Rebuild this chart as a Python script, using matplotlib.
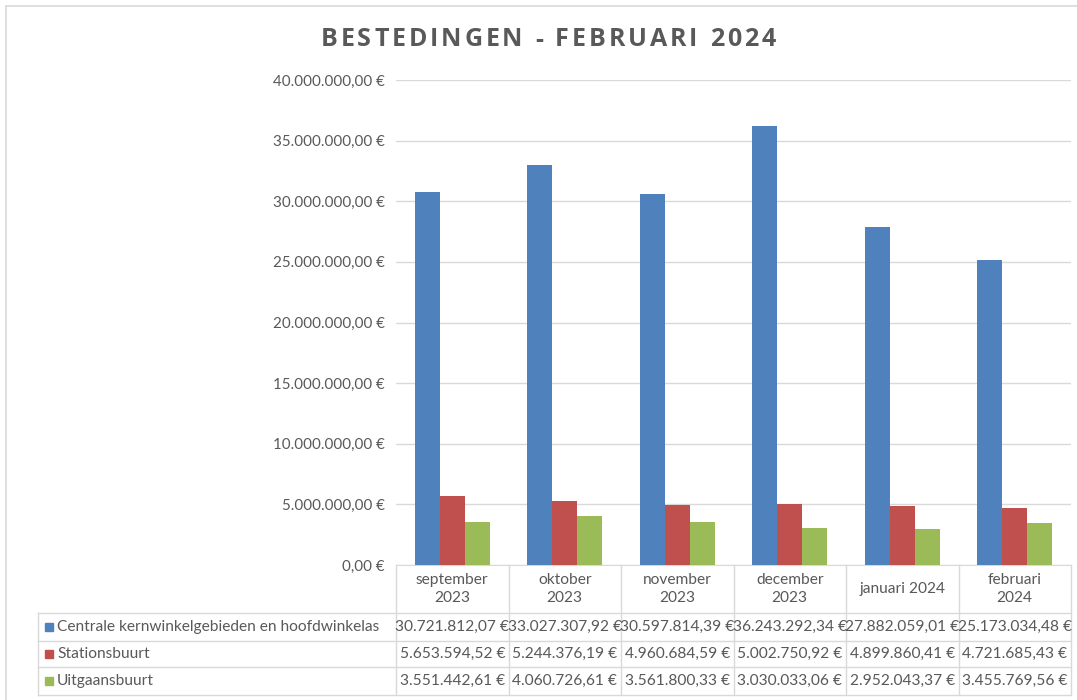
import matplotlib
matplotlib.use("Agg")
import matplotlib.pyplot as plt
import matplotlib.transforms as mtransforms
from matplotlib.lines import Line2D
from matplotlib.patches import Rectangle
import numpy as np

plt.rcParams['font.family'] = ['Lato', 'DejaVu Sans']

# ---- data ----
categories = ["september\n2023", "oktober\n2023", "november\n2023",
              "december\n2023", "januari 2024", "februari\n2024"]
series_names = ["Centrale kernwinkelgebieden en hoofdwinkelas",
                "Stationsbuurt", "Uitgaansbuurt"]
centrale = [30721812.07, 33027307.92, 30597814.39, 36243292.34, 27882059.01, 25173034.48]
stationsbuurt = [5653594.52, 5244376.19, 4960684.59, 5002750.92, 4899860.41, 4721685.43]
uitgaansbuurt = [3551442.61, 4060726.61, 3561800.33, 3030033.06, 2952043.37, 3455769.56]
yticks = [0, 5e6, 10e6, 15e6, 20e6, 25e6, 30e6, 35e6, 40e6]
title = "BESTEDINGEN - FEBRUARI 2024"

colors = ["#4F81BD", "#C0504D", "#9BBB59"]
series = [centrale, stationsbuurt, uitgaansbuurt]
TXT = "#595959"
GRID = "#D9D9D9"

W, H = 1077, 700
fig = plt.figure(figsize=(W / 100, H / 100), dpi=100)

def fy(py):
    return 1 - py / H

def fx(px):
    return px / W

ax_left, ax_right, ax_top, ax_bot = 396, 1071, 80, 565
ax = fig.add_axes([fx(ax_left), fy(ax_bot), fx(ax_right - ax_left), (ax_bot - ax_top) / H])

def eur(v):
    s = f"{v:,.2f}".replace(",", "X").replace(".", ",").replace("X", ".")
    return s + " €"

n = len(categories)
x = np.arange(n)
bw = 1 / 4.5
for i, (vals, c) in enumerate(zip(series, colors)):
    ax.bar(x + (i - 1) * bw, vals, width=bw, color=c, zorder=3)

ax.set_xlim(-0.5, n - 0.5)
ax.set_ylim(0, 40e6)
ax.set_yticks(yticks)
ax.set_yticklabels([eur(v) for v in yticks], color=TXT, fontsize=10.9)
ax.tick_params(axis='y', length=0, pad=8)
ax.set_xticks([])
ax.grid(axis='y', color=GRID, linewidth=1, zorder=0)
for s in ['left', 'right', 'top']:
    ax.spines[s].set_visible(False)
ax.spines['bottom'].set_color(GRID)

# ---- title (letter-spaced) ----
renderer = fig.canvas.get_renderer()
tkw = dict(fontsize=18, fontweight='bold', color=TXT, family=['Open Sans', 'DejaVu Sans'])
target_w = 455.0
probe = fig.text(0, 0, "", **tkw)

def text_w(s):
    probe.set_text(s.replace(" ", "\u00a0") + "|")
    w1 = probe.get_window_extent(renderer).width
    probe.set_text("|")
    w0 = probe.get_window_extent(renderer).width
    return w1 - w0

base_w = text_w(title)
gap = (target_w - base_w) / (len(title) - 1)
x0 = 548 - target_w / 2
positions = [x0 + text_w(title[:k]) + k * gap for k in range(len(title))]
probe.remove()
for k, ch in enumerate(title):
    if ch == " ":
        continue
    fig.text(fx(positions[k]), fy(40), ch, ha='left', va='center', **tkw)

# ---- data table ----
trans = mtransforms.blended_transform_factory(ax.transData, fig.transFigure)
row_lines = [613, 641, 667, 695]
for b in np.arange(-0.5, n, 1.0):
    fig.add_artist(Line2D([b, b], [fy(ax_bot), fy(row_lines[-1])], transform=trans,
                          color=GRID, lw=1))
tab_left = 38
for ry in row_lines:
    fig.add_artist(Line2D([fx(tab_left), fx(ax_right)], [fy(ry), fy(ry)],
                          color=GRID, lw=1))
fig.add_artist(Line2D([fx(tab_left), fx(tab_left)], [fy(row_lines[0]), fy(row_lines[-1])],
                      color=GRID, lw=1))

TFS = 11.2
for i, cat in enumerate(categories):
    t = fig.text(i, fy((ax_bot + row_lines[0]) / 2), cat,
                 ha='center', va='center', fontsize=TFS, color=TXT, linespacing=1.4)
    t.set_transform(trans)

for r, (name, vals, c) in enumerate(zip(series_names, series, colors)):
    cy = (row_lines[r] + row_lines[r + 1]) / 2
    fig.add_artist(Rectangle((fx(45), fy(cy + 4)), fx(8), 8 / H, color=c,
                             transform=fig.transFigure))
    fig.text(fx(57), fy(cy), name, ha='left', va='center', fontsize=TFS, color=TXT)
    for i, v in enumerate(vals):
        t = fig.text(i, fy(cy), eur(v), ha='center', va='center', fontsize=TFS,
                     color=TXT)
        t.set_transform(trans)

# ---- outer chart frame ----
fig.add_artist(Line2D([fx(6), 1], [fy(6), fy(6)], color=GRID, lw=1.2))
fig.add_artist(Line2D([fx(6), fx(6)], [fy(6), 0], color=GRID, lw=1.2))

fig.savefig("out.png", dpi=100)
